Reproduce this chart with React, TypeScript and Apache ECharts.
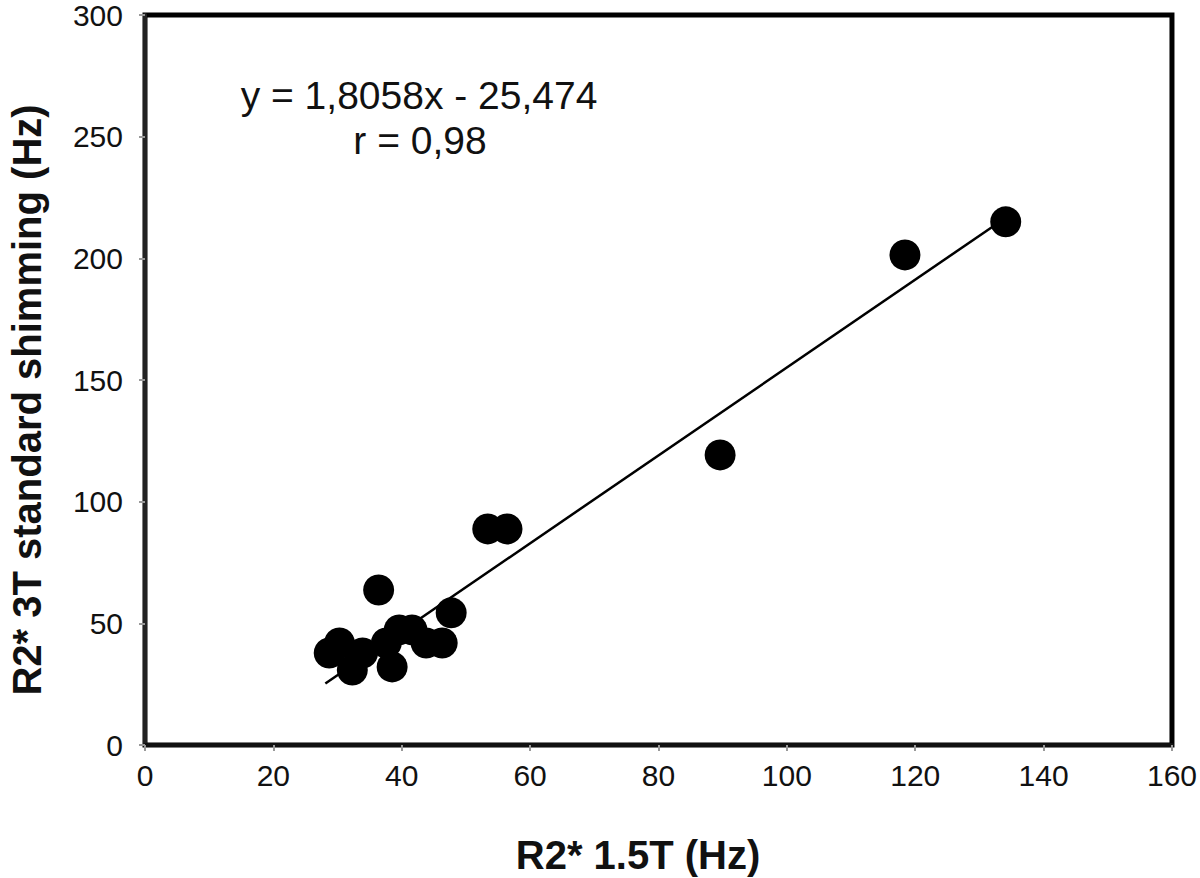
import React, { useEffect, useRef } from "react";
import * as echarts from "echarts";

const r15T: number[] = [134.1, 118.4, 89.6, 53.4, 56.4, 47.7, 36.4, 28.7, 30.3, 32.3, 33.9, 37.6, 38.5, 39.6, 41.6, 43.8, 46.3];
const r3T: number[] = [215.0, 201.4, 119.2, 88.8, 88.8, 54.3, 63.7, 37.8, 41.9, 30.8, 37.8, 41.9, 32.1, 47.3, 47.3, 41.9, 41.9];
const trendX: number[] = [28.1, 134.1];
const trendY: number[] = [25.3, 216.7];
const xTicks: number[] = [0, 20, 40, 60, 80, 100, 120, 140, 160];
const yTicks: number[] = [0, 50, 100, 150, 200, 250, 300];
const equationText = "y = 1,8058x - 25,474";
const rText = "r = 0,98";
const xTitle = "R2* 1.5T (Hz)";
const yTitle = "R2* 3T standard shimming (Hz)";

const FONT = "'Liberation Sans', Arial, Helvetica, sans-serif";

export default function App() {
  const ref = useRef<HTMLDivElement>(null);
  useEffect(() => {
    if (!ref.current) return;
    const chart = echarts.init(ref.current, undefined, { renderer: "svg" });
    chart.setOption({
      animation: false,
      backgroundColor: "#ffffff",
      grid: {
        left: 145,
        right: 25,
        top: 15,
        bottom: 133,
        show: true,
        borderColor: "#000",
        borderWidth: 5,
        backgroundColor: "transparent",
      },
      xAxis: {
        type: "value",
        min: xTicks[0],
        max: xTicks[xTicks.length - 1],
        interval: 20,
        splitLine: { show: false },
        axisLine: { show: true, onZero: false, lineStyle: { color: "#111", width: 4 } },
        axisTick: { show: true, length: 6, lineStyle: { color: "#999", width: 2 } },
        axisLabel: { fontSize: 30, color: "#111", fontFamily: FONT, margin: 15 },
      },
      yAxis: {
        type: "value",
        min: yTicks[0],
        max: yTicks[yTicks.length - 1],
        interval: 50,
        splitLine: { show: false },
        axisLine: { show: true, onZero: false, lineStyle: { color: "#222", width: 4 } },
        axisTick: { show: true, length: 6, lineStyle: { color: "#999", width: 2 } },
        axisLabel: { fontSize: 30, color: "#111", fontFamily: FONT, margin: 22 },
      },
      graphic: [
        {
          type: "text",
          x: 419,
          y: 95,
          style: {
            text: equationText,
            fontSize: 39,
            fill: "#111",
            fontFamily: FONT,
            align: "center",
            verticalAlign: "middle",
          },
        },
        {
          type: "text",
          x: 420,
          y: 140,
          style: {
            text: rText,
            fontSize: 39,
            fill: "#111",
            fontFamily: FONT,
            align: "center",
            verticalAlign: "middle",
          },
        },
        {
          type: "text",
          x: 638,
          y: 855,
          style: {
            text: xTitle,
            fontSize: 40,
            fontWeight: "bold",
            fill: "#111",
            fontFamily: FONT,
            align: "center",
            verticalAlign: "middle",
          },
        },
        {
          type: "text",
          x: 27,
          y: 400,
          rotation: Math.PI / 2,
          style: {
            text: yTitle,
            fontSize: 40,
            fontWeight: "bold",
            fill: "#111",
            fontFamily: FONT,
            align: "center",
            verticalAlign: "middle",
          },
        },
      ],
      series: [
        {
          type: "line",
          data: trendX.map((x, i) => [x, trendY[i]]),
          showSymbol: false,
          symbol: "none",
          lineStyle: { color: "#000", width: 2.5 },
          z: 2,
        },
        {
          type: "scatter",
          data: r15T.map((x, i) => [x, r3T[i]]),
          symbol: "circle",
          symbolSize: 31,
          itemStyle: { color: "#000", opacity: 1 },
          z: 3,
        },
      ],
    });
    return () => chart.dispose();
  }, []);
  return <div ref={ref} style={{ width: 1200, height: 878, position: "absolute", left: 0, top: 0 }} />;
}
